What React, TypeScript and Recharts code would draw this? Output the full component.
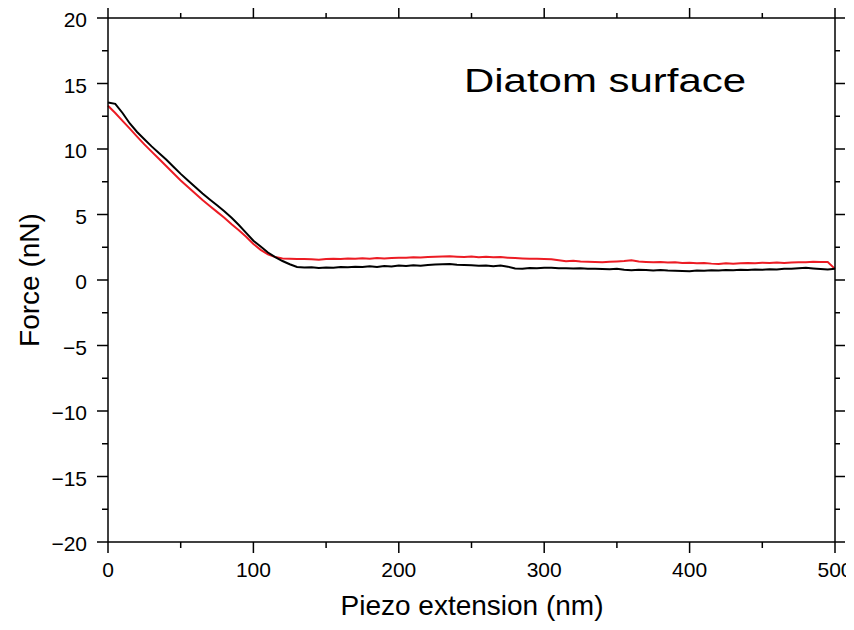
import React from "react";
import { LineChart, Line, XAxis, YAxis } from "recharts";

// piezo extension, nm
const extension = [
  0, 5, 10, 15, 20, 25, 30, 35, 40, 45,
  50, 55, 60, 65, 70, 75, 80, 85, 90, 95,
  100, 105, 110, 115, 120, 125, 130, 135, 140, 145,
  150, 155, 160, 165, 170, 175, 180, 185, 190, 195,
  200, 205, 210, 215, 220, 225, 230, 235, 240, 245,
  250, 255, 260, 265, 270, 275, 280, 285, 290, 295,
  300, 305, 310, 315, 320, 325, 330, 335, 340, 345,
  350, 355, 360, 365, 370, 375, 380, 385, 390, 395,
  400, 405, 410, 415, 420, 425, 430, 435, 440, 445,
  450, 455, 460, 465, 470, 475, 480, 485, 490, 495,
  500,
];

// black trace, nN
const forceBlack = [
  13.55, 13.45, 12.75, 11.95, 11.3, 10.75, 10.2, 9.7, 9.2, 8.65,
  8.1, 7.6, 7.1, 6.6, 6.15, 5.7, 5.25, 4.75, 4.2, 3.6,
  3.0, 2.55, 2.1, 1.75, 1.45, 1.2, 1.0, 0.95, 0.98, 0.92,
  0.96, 0.93, 1.0, 0.97, 1.02, 0.99, 1.04, 1.0, 1.06, 1.03,
  1.1, 1.07, 1.12, 1.09, 1.15, 1.18, 1.2, 1.22, 1.16, 1.14,
  1.12, 1.08, 1.1, 1.05, 1.1, 1.02, 0.88, 0.85, 0.92, 0.9,
  0.94, 0.93, 0.89, 0.9, 0.87, 0.9, 0.86, 0.85, 0.84, 0.82,
  0.85, 0.78, 0.75, 0.78, 0.76, 0.73, 0.76, 0.72, 0.7, 0.68,
  0.67, 0.72, 0.7, 0.74, 0.72, 0.76, 0.75, 0.78, 0.76, 0.8,
  0.78, 0.82, 0.8, 0.85, 0.86, 0.9, 0.93, 0.88, 0.84, 0.8,
  0.85,
];

// red trace, nN
const forceRed = [
  13.3, 12.75, 12.15, 11.55, 10.95, 10.35, 9.8, 9.25, 8.7, 8.15,
  7.6, 7.1, 6.6, 6.1, 5.65, 5.2, 4.75, 4.25, 3.8, 3.3,
  2.75, 2.3, 1.95, 1.75, 1.65, 1.62, 1.6, 1.6, 1.58, 1.55,
  1.6, 1.63, 1.6, 1.64, 1.62, 1.66, 1.63, 1.67, 1.65, 1.68,
  1.69, 1.7, 1.73, 1.71, 1.75, 1.77, 1.8, 1.81, 1.78, 1.76,
  1.79, 1.74, 1.77, 1.73, 1.76, 1.7, 1.68, 1.65, 1.63, 1.62,
  1.61, 1.58, 1.5, 1.43, 1.46, 1.42, 1.4, 1.38, 1.36, 1.4,
  1.42, 1.45, 1.51, 1.42, 1.38, 1.35, 1.37, 1.33, 1.35, 1.3,
  1.32, 1.28, 1.3, 1.25, 1.23, 1.27, 1.25, 1.28, 1.3, 1.28,
  1.32, 1.3, 1.34, 1.3, 1.33, 1.36, 1.35, 1.39, 1.37, 1.38,
  0.85,
];

const xTicks = [0, 50, 100, 150, 200, 250, 300, 350, 400, 450, 500];
const yTicks = [-20, -17.5, -15, -12.5, -10, -7.5, -5, -2.5, 0, 2.5, 5, 7.5, 10, 12.5, 15, 17.5, 20];

const data = extension.map((x, i) => ({ x, black: forceBlack[i], red: forceRed[i] }));

const FONT = "'Liberation Sans', Arial, Helvetica, sans-serif";
const isMajorX = (v: number) => v % 100 === 0;
const isMajorY = (v: number) => v % 5 === 0;
const fmt = (v: number) => (v < 0 ? "\u2212" + Math.abs(v) : String(v));

const BottomTick = ({ x, y, payload }: any) => {
  const major = isMajorX(payload.value);
  return (
    <g>
      <line x1={x} y1={y} x2={x} y2={y + (major ? 11 : 6)} stroke="#000" strokeWidth={1.5} />
      {major && (
        <text x={x} y={y + 35} textAnchor="middle" fontSize={21} fontFamily={FONT} fill="#000">
          {payload.value}
        </text>
      )}
    </g>
  );
};

const TopTick = ({ x, y, payload }: any) => {
  const major = isMajorX(payload.value);
  return <line x1={x} y1={y} x2={x} y2={y - (major ? 10 : 5)} stroke="#000" strokeWidth={1.5} />;
};

const LeftTick = ({ x, y, payload }: any) => {
  const major = isMajorY(payload.value);
  return (
    <g>
      <line x1={x} y1={y} x2={x - (major ? 11 : 6)} y2={y} stroke="#000" strokeWidth={1.5} />
      {major && (
        <text x={x - 21} y={y + 9} textAnchor="end" fontSize={21} fontFamily={FONT} fill="#000">
          {fmt(payload.value)}
        </text>
      )}
    </g>
  );
};

const RightTick = ({ x, y, payload }: any) => {
  const major = isMajorY(payload.value);
  return <line x1={x} y1={y} x2={x + (major ? 10 : 5)} y2={y} stroke="#000" strokeWidth={1.5} />;
};

const axisLine = { stroke: "#000", strokeWidth: 1.5 };

export default function App() {
  return (
    <div style={{ position: "relative", width: 846, height: 614 }}>
      <LineChart width={846} height={614} data={data} margin={{ top: 0, right: 0, bottom: 0, left: 0 }}>
        <XAxis
          xAxisId="bottom"
          dataKey="x"
          type="number"
          domain={[0, 500]}
          ticks={xTicks}
          interval={0}
          height={80}
          tickSize={0}
          tickMargin={0}
          tickLine={false}
          axisLine={axisLine}
          tick={<BottomTick />}
        />
        <XAxis
          xAxisId="top"
          orientation="top"
          dataKey="x"
          type="number"
          domain={[0, 500]}
          ticks={xTicks}
          interval={0}
          height={10}
          tickSize={0}
          tickMargin={0}
          tickLine={false}
          axisLine={axisLine}
          tick={<TopTick />}
        />
        <YAxis
          yAxisId="left"
          type="number"
          domain={[-20, 20]}
          ticks={yTicks}
          interval={0}
          width={100}
          tickSize={0}
          tickMargin={0}
          tickLine={false}
          axisLine={axisLine}
          tick={<LeftTick />}
          allowDataOverflow
        />
        <YAxis
          yAxisId="right"
          orientation="right"
          type="number"
          domain={[-20, 20]}
          ticks={yTicks}
          interval={0}
          width={19}
          tickSize={0}
          tickMargin={0}
          tickLine={false}
          axisLine={axisLine}
          tick={<RightTick />}
          allowDataOverflow
        />
        <Line
          xAxisId="bottom"
          yAxisId="left"
          dataKey="red"
          stroke="#ec1c24"
          strokeWidth={2}
          dot={false}
          isAnimationActive={false}
        />
        <Line
          xAxisId="bottom"
          yAxisId="left"
          dataKey="black"
          stroke="#000"
          strokeWidth={2}
          dot={false}
          isAnimationActive={false}
        />
      </LineChart>
      <svg
        width={846}
        height={622}
        style={{ position: "absolute", left: 0, top: 0, pointerEvents: "none", overflow: "visible" }}
        fontFamily={FONT}
      >
        <text x={456} y={84} fontSize={34} textLength={282} lengthAdjust="spacingAndGlyphs" fill="#000">
          Diatom surface
        </text>
        <text x={464} y={607} fontSize={28} textAnchor="middle" fill="#000">
          Piezo extension (nm)
        </text>
        <text x={0} y={0} fontSize={28} textAnchor="middle" fill="#000" transform="translate(31 272) rotate(-90)">
          Force (nN)
        </text>
      </svg>
    </div>
  );
}
